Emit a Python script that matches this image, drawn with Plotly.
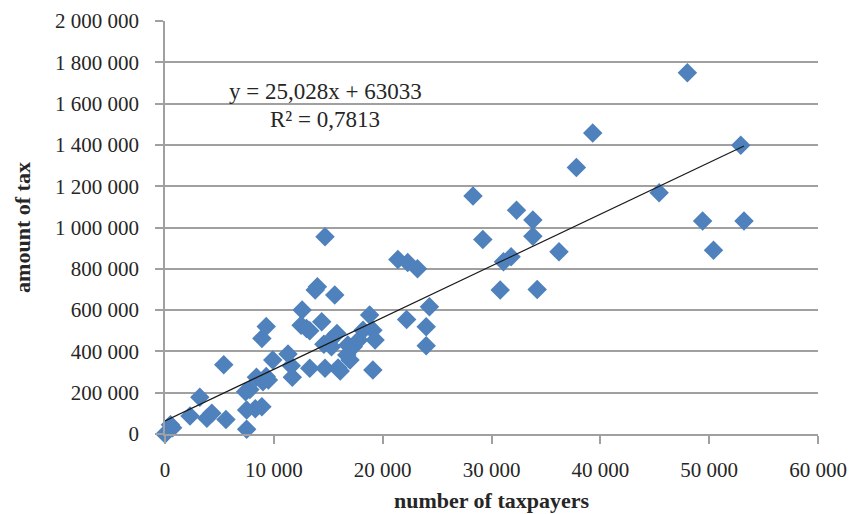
import numpy as np
import plotly.graph_objects as go

# number of taxpayers
taxpayers = [0, 500, 700, 2300, 3200, 3850, 4300, 5400, 5600, 7400, 7500, 7500, 7800,
             8300, 8900, 8400, 9000, 9300, 9500, 8900, 9300, 9900, 11300, 11600, 11700,
             12600, 12500, 13000, 13300, 13300, 13800, 14000, 14400, 14600, 14700, 14700,
             15200, 15300, 15600, 15800, 15900, 16100, 16700, 16800, 17000, 17300, 17800,
             18200, 18800, 19100, 19100, 19300, 21400, 22300, 23200, 22200, 24000, 24000,
             24300, 28300, 29200, 30800, 31100, 31800, 32300, 33800, 33800, 34200, 36200,
             37800, 39300, 45400, 48000, 49400, 50400, 52900, 53200]
# amount of tax
tax_amount = [0, 45000, 30000, 87000, 178000, 76000, 100000, 335000, 70000, 205000, 23000,
              116000, 215000, 122000, 132000, 275000, 253000, 278000, 262000, 463000, 520000,
              358000, 388000, 330000, 275000, 600000, 527000, 511000, 500000, 318000, 697000,
              713000, 543000, 435000, 318000, 955000, 455000, 422000, 673000, 487000, 320000,
              305000, 382000, 431000, 358000, 422000, 455000, 503000, 576000, 310000, 503000,
              455000, 845000, 830000, 800000, 555000, 519000, 427000, 616000, 1153000, 942000,
              697000, 834000, 858000, 1084000, 1036000, 958000, 700000, 882000, 1290000,
              1458000, 1168000, 1750000, 1032000, 890000, 1398000, 1032000]

# linear trend (as shown on chart)
slope = 25.028
intercept = 63033
equation_text = "y = 25,028x + 63033"
r2_text = "R² = 0,7813"

x_ticks = [0, 10000, 20000, 30000, 40000, 50000, 60000]
y_ticks = [0, 200000, 400000, 600000, 800000, 1000000, 1200000, 1400000, 1600000, 1800000, 2000000]

FONT = "Liberation Serif"
TEXT_COLOR = "#262626"
GRID = "#A0A0A0"

x_line = np.array([min(taxpayers), max(taxpayers)], dtype=float)
y_line = slope * x_line + intercept

fig = go.Figure()
fig.add_trace(go.Scatter(
    x=taxpayers, y=tax_amount, mode="markers",
    marker=dict(symbol="diamond", size=15, color="#4F81BD", line=dict(width=0)),
    showlegend=False, cliponaxis=False,
))
fig.add_trace(go.Scatter(
    x=x_line, y=y_line, mode="lines",
    line=dict(color="#1a1a1a", width=1.2),
    showlegend=False, cliponaxis=False,
))

fig.add_annotation(x=14760, y=1660000, xref="x", yref="y", text=equation_text,
                   showarrow=False, font=dict(family=FONT, size=23, color=TEXT_COLOR))
fig.add_annotation(x=14700, y=1524000, xref="x", yref="y", text=r2_text,
                   showarrow=False, font=dict(family=FONT, size=23, color=TEXT_COLOR))

fig.update_layout(
    width=855, height=514,
    margin=dict(l=165, r=37, t=21, b=80),
    paper_bgcolor="white", plot_bgcolor="white",
    separators=", ",
    font=dict(family=FONT, size=21, color=TEXT_COLOR),
)
fig.update_xaxes(
    range=[0, 60000], tickvals=x_ticks, tickformat=",d", automargin=False,
    showgrid=False, zeroline=False,
    showline=True, linecolor=GRID, linewidth=1.5,
    ticks="outside", ticklen=8, tickcolor=GRID, tickwidth=1.5,
    ticklabelstandoff=8,
    tickfont=dict(family=FONT, size=21, color=TEXT_COLOR),
    title=dict(text="<b>number of taxpayers</b>", standoff=12,
               font=dict(family=FONT, size=22, color=TEXT_COLOR)),
)
fig.update_yaxes(
    range=[0, 2000000], tickvals=y_ticks, tickformat=",d", automargin=False,
    showgrid=True, gridcolor=GRID, gridwidth=1.5, zeroline=False,
    showline=True, linecolor=GRID, linewidth=1.5,
    ticks="outside", ticklen=8, tickcolor=GRID, tickwidth=1.5,
    ticklabelstandoff=12,
    tickfont=dict(family=FONT, size=21, color=TEXT_COLOR),
    title=dict(text="<b>amount of tax</b>", standoff=18,
               font=dict(family=FONT, size=22, color=TEXT_COLOR)),
)

fig.write_html("out.html")
